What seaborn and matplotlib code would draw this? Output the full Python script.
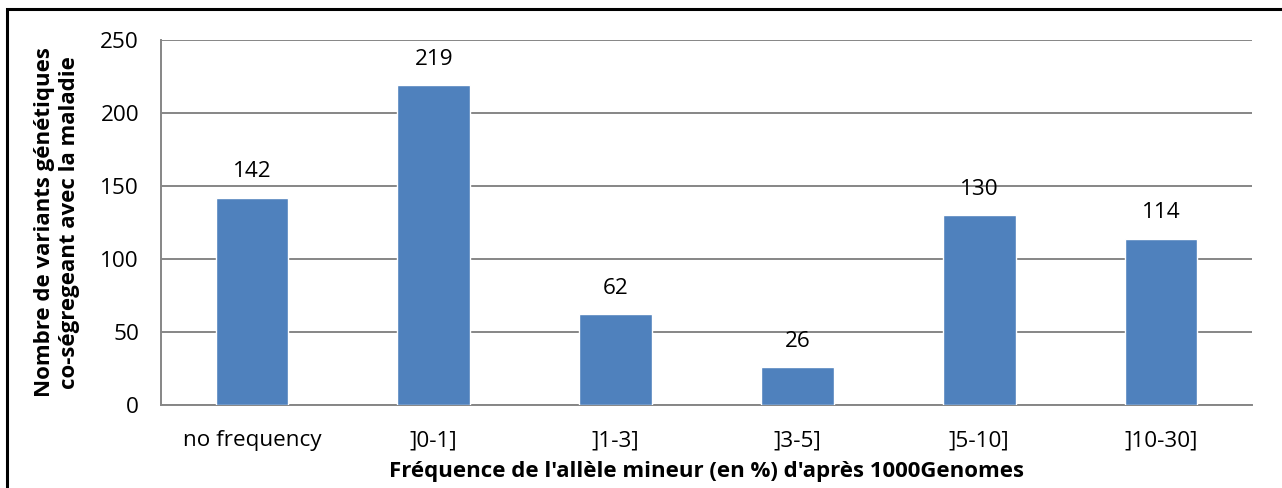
import matplotlib
matplotlib.use("Agg")
import matplotlib.pyplot as plt
import seaborn as sns
import pandas as pd
from matplotlib.patches import Rectangle

# Minor allele frequency bins and the number of co-segregating variants in each
categories = ["no frequency", "]0-1]", "]1-3]", "]3-5]", "]5-10]", "]10-30]"]
counts = [142, 219, 62, 26, 130, 114]
y_ticks = [0, 50, 100, 150, 200, 250]

df = pd.DataFrame({"bin": categories, "n": counts})

sns.set_theme(style="white")
plt.rcParams["font.family"] = ["Open Sans", "DejaVu Sans"]

W, H, DPI = 1282, 488, 100
fig = plt.figure(figsize=(W / DPI, H / DPI), dpi=DPI)
ax = fig.add_axes([161 / W, 1 - 405 / H, (1252 - 161) / W, (405 - 40) / H])

bar_color = "#4F81BD"
grid_color = "#868686"
tick_fs = 16.2
label_fs = 16.0

sns.barplot(data=df, x="bin", y="n", color=bar_color, width=0.4,
            saturation=1, ax=ax, zorder=3)

ax.set_xlim(-0.5, len(categories) - 0.5)
ax.set_ylim(0, 250)
ax.set_yticks(y_ticks)
ax.yaxis.grid(True, color=grid_color, linewidth=1.4, zorder=0)
ax.xaxis.grid(False)

for side in ["top", "right"]:
    ax.spines[side].set_visible(False)
for side in ["left", "bottom"]:
    ax.spines[side].set_color(grid_color)
    ax.spines[side].set_linewidth(1.4)

# Category labels centred, tick marks at category boundaries
ax.set_xticks(range(len(categories)))
ax.set_xticklabels(categories)
ax.tick_params(axis="x", which="major", length=0, pad=18, labelsize=tick_fs,
               labelcolor="black")
ax.set_xticks([i - 0.5 for i in range(len(categories) + 1)], minor=True)
ax.tick_params(axis="x", which="minor", length=5.8, width=1.4, color=grid_color,
               direction="out")
ax.tick_params(axis="y", length=5.8, width=1.4, color=grid_color, direction="out",
               labelsize=tick_fs, labelcolor="black", pad=10)

ax.set_xlabel("Fréquence de l'allèle mineur (en %) d'après 1000Genomes",
              fontsize=label_fs, fontweight="bold", color="black", va="center")
ax.xaxis.set_label_coords(0.5, (405 - 471) / 365)
ax.set_ylabel("Nombre de variants génétiques\nco-ségregeant avec la maladie",
              fontsize=label_fs, fontweight="bold", color="black",
              linespacing=1.3, va="center")
ax.yaxis.set_label_coords((57 - 161) / 1091, 0.5)

# Value labels above each bar
for container in ax.containers:
    ax.bar_label(container, labels=[str(v) for v in counts], padding=11,
                 fontsize=tick_fs, color="black")

# Frame around the whole chart
fig.patches.append(Rectangle((7 / W, -0.1), 1.2, 1 - 9 / H + 0.1,
                             transform=fig.transFigure, fill=False,
                             edgecolor="black", linewidth=2.2))

fig.savefig("out.png", dpi=DPI, facecolor="white")
